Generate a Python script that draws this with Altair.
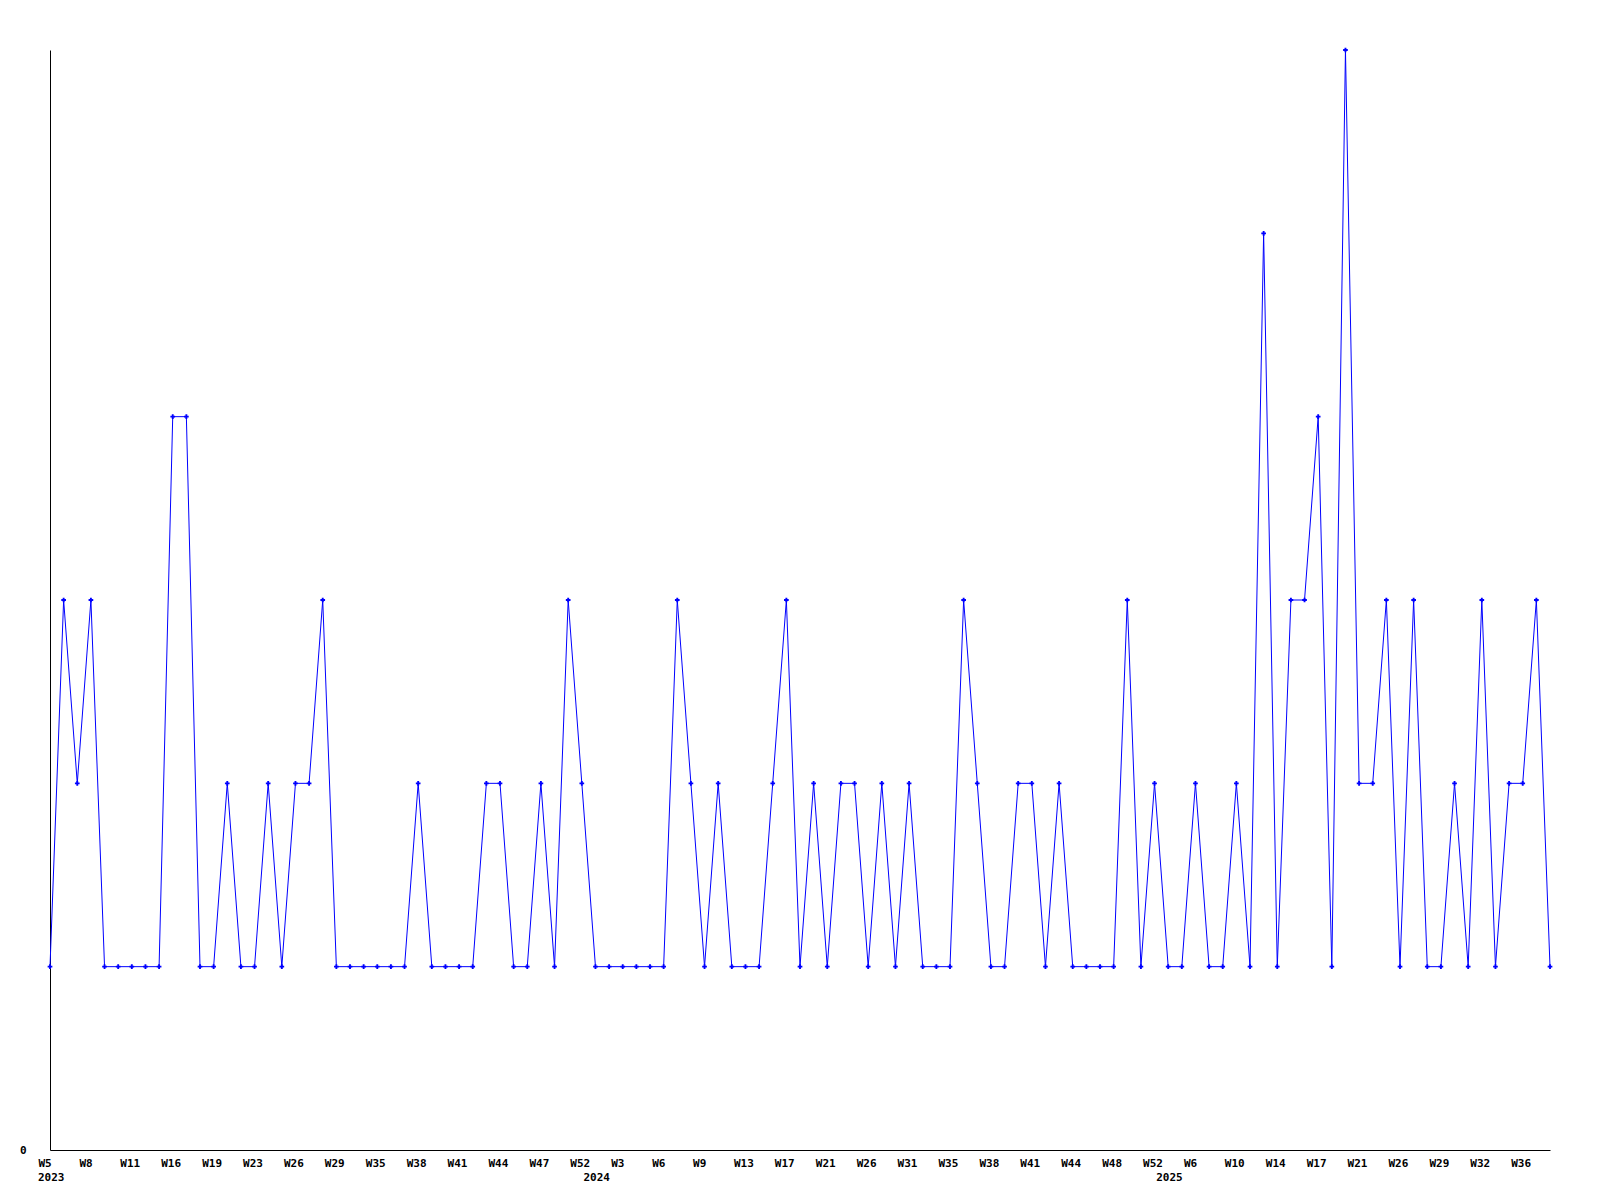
import altair as alt
import pandas as pd

# Weekly counts, one value per data point (index order)
values = [
    1, 3, 2, 3, 1, 1, 1, 1, 1, 4,
    4, 1, 1, 2, 1, 1, 2, 1, 2, 2,
    3, 1, 1, 1, 1, 1, 1, 2, 1, 1,
    1, 1, 2, 2, 1, 1, 2, 1, 3, 2,
    1, 1, 1, 1, 1, 1, 3, 2, 1, 2,
    1, 1, 1, 2, 3, 1, 2, 1, 2, 2,
    1, 2, 1, 2, 1, 1, 1, 3, 2, 1,
    1, 2, 2, 1, 2, 1, 1, 1, 1, 3,
    1, 2, 1, 1, 2, 1, 1, 2, 1, 5,
    1, 3, 3, 4, 1, 6, 2, 2, 3, 1,
    3, 1, 1, 2, 1, 3, 1, 2, 2, 3,
    1,
]

# Tick labels shown every third point
week_labels = [
    "W5", "W8", "W11", "W16", "W19", "W23", "W26", "W29", "W35", "W38",
    "W41", "W44", "W47", "W52", "W3", "W6", "W9", "W13", "W17", "W21",
    "W26", "W31", "W35", "W38", "W41", "W44", "W48", "W52", "W6", "W10",
    "W14", "W17", "W21", "W26", "W29", "W32", "W36",
]
label_step = 3

# Year labels at the first point of each year
years = ["2023", "2024", "2025"]
year_index = [0, 40, 82]

W, H = 1500, 1100
FONT = "DejaVu Sans Mono"

df = pd.DataFrame({"i": list(range(len(values))), "v": values})
ydf = pd.DataFrame({"i": year_index, "year": years})

label_arr = "[" + ",".join("'%s'" % s for s in week_labels) + "]"
tick_vals = [k * label_step for k in range(len(week_labels))]

xscale = alt.Scale(domain=[0, len(values) - 1], nice=False, zero=False)
yscale = alt.Scale(domain=[0, 6], nice=False)

base = alt.Chart(df).encode(
    x=alt.X(
        "i:Q",
        scale=xscale,
        axis=alt.Axis(
            title=None,
            values=tick_vals,
            labelExpr=label_arr + "[round(datum.value / %d)]" % label_step,
            ticks=False,
            grid=False,
            domainColor="black",
            domainWidth=1,
            labelAlign="left",
            labelBaseline="top",
            labelOffset=-12,
            labelPadding=7,
            labelFont=FONT,
            labelFontWeight="bold",
            labelFontSize=11,
            labelColor="black",
            labelOverlap=False,
            labelFlush=False,
        ),
    ),
    y=alt.Y(
        "v:Q",
        scale=yscale,
        axis=alt.Axis(
            title=None,
            values=[0],
            ticks=False,
            grid=False,
            domainColor="black",
            domainWidth=1,
            labelPadding=24,
            labelFont=FONT,
            labelFontWeight="bold",
            labelFontSize=11,
            labelColor="black",
        ),
    ),
)

line = base.mark_line(color="#0000FF", strokeWidth=1)
pts = base.mark_point(shape="cross", filled=True, size=22, color="#0000FF", opacity=1)

year_text = alt.Chart(ydf).mark_text(
    align="left", baseline="top", dx=-12,
    font=FONT, fontWeight="bold", fontSize=11, color="black",
).encode(
    x=alt.X("i:Q", scale=xscale),
    y=alt.value(H + 22),
    text="year:N",
)

chart = alt.layer(line, pts, year_text).properties(
    width=W,
    height=H,
    background="white",
    autosize=alt.AutoSizeParams(type="none"),
    padding={"left": 42, "top": 42, "right": 30, "bottom": 40},
).configure_view(stroke=None, strokeWidth=0)

chart.save("out.html", embed_options={"renderer": "svg", "actions": False})
